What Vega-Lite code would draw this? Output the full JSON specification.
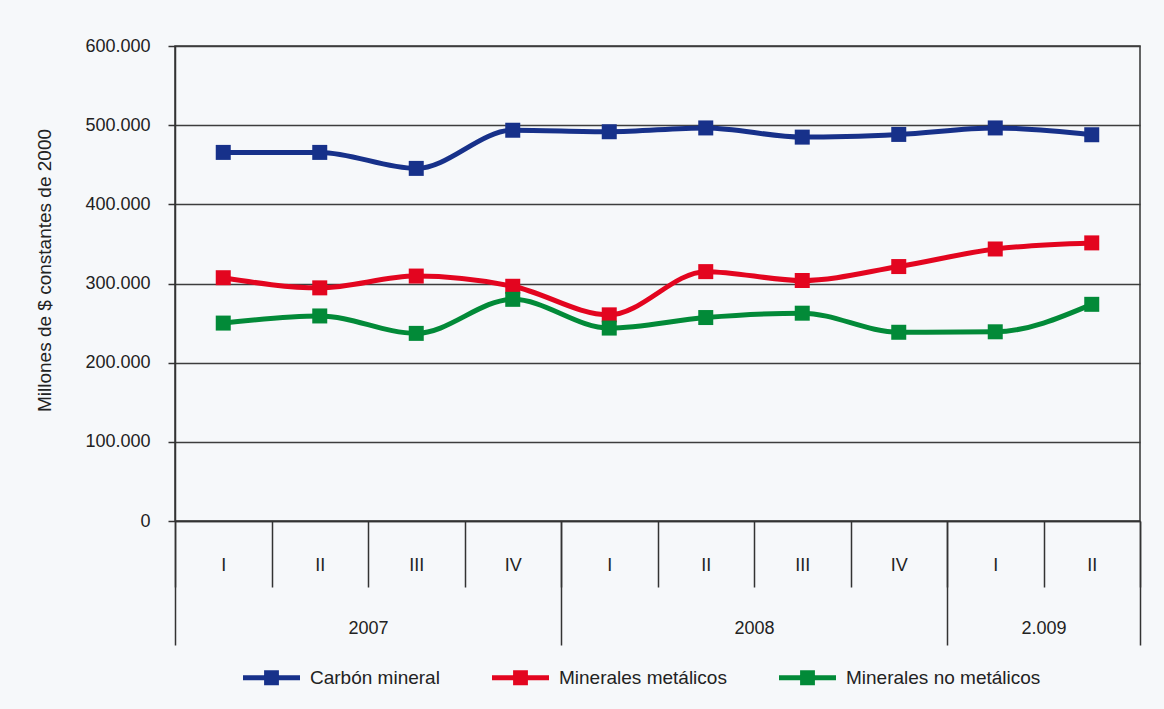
{
  "$schema": "https://vega.github.io/schema/vega-lite/v6.json",
  "width": 965,
  "height": 475,
  "autosize": {"type": "none"},
  "padding": {"left": 175, "top": 46, "right": 24, "bottom": 188},
  "background": "#f6f8fa",
  "config": {
    "font": "Liberation Sans",
    "view": {"stroke": "#333333", "strokeWidth": 1.5},
    "axis": {
      "labelFont": "Liberation Sans",
      "labelFontSize": 18,
      "labelColor": "#222222",
      "titleFont": "Liberation Sans",
      "titleFontSize": 19,
      "titleFontWeight": "normal",
      "titleColor": "#222222"
    }
  },
  "data": {
    "values": [
      {"periodo": "2007-I", "serie": "Carbón mineral", "valor": 465600},
      {"periodo": "2007-II", "serie": "Carbón mineral", "valor": 465600},
      {"periodo": "2007-III", "serie": "Carbón mineral", "valor": 445400},
      {"periodo": "2007-IV", "serie": "Carbón mineral", "valor": 493600},
      {"periodo": "2008-I", "serie": "Carbón mineral", "valor": 491700},
      {"periodo": "2008-II", "serie": "Carbón mineral", "valor": 496500},
      {"periodo": "2008-III", "serie": "Carbón mineral", "valor": 484900},
      {"periodo": "2008-IV", "serie": "Carbón mineral", "valor": 488300},
      {"periodo": "2009-I", "serie": "Carbón mineral", "valor": 496500},
      {"periodo": "2009-II", "serie": "Carbón mineral", "valor": 487900},
      {"periodo": "2007-I", "serie": "Minerales metálicos", "valor": 307300},
      {"periodo": "2007-II", "serie": "Minerales metálicos", "valor": 294500},
      {"periodo": "2007-III", "serie": "Minerales metálicos", "valor": 309400},
      {"periodo": "2007-IV", "serie": "Minerales metálicos", "valor": 296500},
      {"periodo": "2008-I", "serie": "Minerales metálicos", "valor": 260400},
      {"periodo": "2008-II", "serie": "Minerales metálicos", "valor": 315000},
      {"periodo": "2008-III", "serie": "Minerales metálicos", "valor": 303800},
      {"periodo": "2008-IV", "serie": "Minerales metálicos", "valor": 321400},
      {"periodo": "2009-I", "serie": "Minerales metálicos", "valor": 343600},
      {"periodo": "2009-II", "serie": "Minerales metálicos", "valor": 351300},
      {"periodo": "2007-I", "serie": "Minerales no metálicos", "valor": 250000},
      {"periodo": "2007-II", "serie": "Minerales no metálicos", "valor": 259000},
      {"periodo": "2007-III", "serie": "Minerales no metálicos", "valor": 237000},
      {"periodo": "2007-IV", "serie": "Minerales no metálicos", "valor": 280000},
      {"periodo": "2008-I", "serie": "Minerales no metálicos", "valor": 243700},
      {"periodo": "2008-II", "serie": "Minerales no metálicos", "valor": 257000},
      {"periodo": "2008-III", "serie": "Minerales no metálicos", "valor": 262500},
      {"periodo": "2008-IV", "serie": "Minerales no metálicos", "valor": 238400},
      {"periodo": "2009-I", "serie": "Minerales no metálicos", "valor": 239000},
      {"periodo": "2009-II", "serie": "Minerales no metálicos", "valor": 273700}
    ]
  },
  "layer": [
    {
      "mark": {"type": "line", "interpolate": "monotone", "strokeWidth": 5},
      "encoding": {
        "x": {
          "field": "periodo", "type": "ordinal", "sort": null, "bandPosition": 0.5,
          "scale": {"type": "band", "paddingInner": 0, "paddingOuter": 0},
          "axis": {
            "orient": "bottom", "tickBand": "extent", "tickSize": 66, "tickColor": "#333333", "tickWidth": 1.5,
            "labelExpr": "split(datum.value, '-')[1]", "labelAngle": 0, "labelBaseline": "middle", "labelPadding": -22,
            "domainColor": "#333333", "domainWidth": 1.5, "grid": false, "title": null
          }
        },
        "y": {
          "field": "valor", "type": "quantitative",
          "scale": {"domain": [0, 600000], "nice": false},
          "axis": {
            "values": [0, 100000, 200000, 300000, 400000, 500000, 600000],
            "grid": true, "gridColor": "#3d3d3d", "gridWidth": 1.5,
            "tickSize": 7, "tickColor": "#333333", "tickWidth": 1.5,
            "domainColor": "#333333", "domainWidth": 1.5,
            "labelPadding": 18,
            "labelExpr": "replace(format(datum.value, ','), ',', '.')",
            "title": "Millones de $ constantes de 2000", "titlePadding": 30, "titleY": 224
          }
        },
        "color": {
          "field": "serie", "type": "nominal",
          "scale": {"domain": ["Carbón mineral", "Minerales metálicos", "Minerales no metálicos"], "range": ["#17318a", "#e3051f", "#028a38"]}
        }
      }
    },
    {
      "mark": {"type": "point", "shape": "square", "filled": true, "size": 225, "opacity": 1},
      "encoding": {
        "x": {
          "field": "periodo", "type": "ordinal", "sort": null, "bandPosition": 0.5,
          "scale": {"type": "band", "paddingInner": 0, "paddingOuter": 0},
          "axis": null
        },
        "y": {"field": "valor", "type": "quantitative"},
        "color": {
          "field": "serie", "type": "nominal",
          "legend": {
            "orient": "none", "legendX": 68, "legendY": 603, "direction": "horizontal", "title": null,
            "symbolType": "M-1,-0.09L1,-0.09L1,0.09L-1,0.09Z M-0.26,-0.26L0.26,-0.26L0.26,0.26L-0.26,0.26Z",
            "symbolSize": 3249, "symbolStrokeWidth": 0, "symbolOpacity": 1,
            "labelFont": "Liberation Sans", "labelFontSize": 19, "labelColor": "#222222", "labelOffset": 10,
            "labelLimit": 400, "columnPadding": 52
          }
        }
      }
    },
    {
      "data": {"values": [{}]},
      "mark": {"type": "rule", "opacity": 0},
      "encoding": {
        "x": {
          "datum": 0, "type": "quantitative",
          "scale": {"domain": [0, 10], "nice": false, "zero": false},
          "axis": {"orient": "bottom", "values": [0, 4, 8, 10], "labels": false, "domain": false, "grid": false,
                   "tickSize": 124, "tickColor": "#333333", "tickWidth": 1.5, "title": null}
        }
      }
    },
    {
      "data": {"values": [{}]},
      "mark": {"type": "rule", "opacity": 0},
      "encoding": {
        "x": {
          "datum": 0, "type": "quantitative",
          "scale": {"domain": [0, 10], "nice": false, "zero": false},
          "axis": {"orient": "bottom", "values": [2, 6, 9], "ticks": false, "domain": false, "grid": false,
                   "labelExpr": "datum.value == 2 ? '2007' : datum.value == 6 ? '2008' : '2.009'",
                   "labelPadding": 107, "labelBaseline": "middle", "labelFontSize": 18, "title": null}
        }
      }
    }
  ],
  "resolve": {"scale": {"x": "independent"}, "axis": {"x": "independent"}}
}
